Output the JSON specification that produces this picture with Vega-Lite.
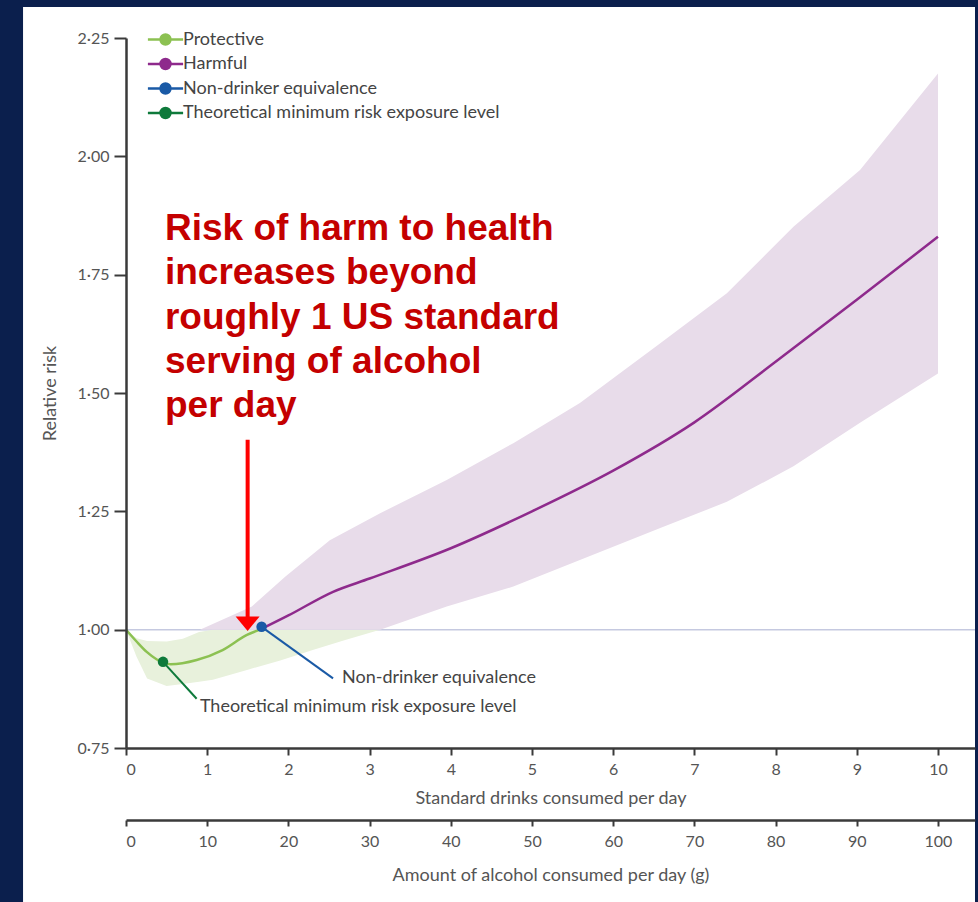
{
  "$schema": "https://vega.github.io/schema/vega-lite/v6.json",
  "width": 849,
  "height": 710,
  "autosize": {"type": "none"},
  "padding": {"left": 126, "top": 38, "right": 3, "bottom": 154},
  "background": "#ffffff",
  "config": {
    "view": {"stroke": null},
    "font": "Lato",
    "axis": {
      "zindex": 1,
      "grid": false,
      "domainColor": "#3a3a3a",
      "domainWidth": 2.5,
      "tickColor": "#3a3a3a",
      "tickWidth": 2,
      "labelColor": "#555555",
      "titleColor": "#555555",
      "labelFont": "Lato",
      "titleFont": "Lato",
      "labelFontSize": 16,
      "titleFontSize": 18,
      "titleFontWeight": "normal"
    },
    "legend": {"labelFont": "Lato"}
  },
  "resolve": {"scale": {"x": "independent"}, "axis": {"x": "independent"}},
  "layer": [
    {
      "layer": [
        {
          "data": {"values": [
            {"g": -15.52, "g2": -12.68, "y": 0.4246, "y2": 2.3303},
            {"g": -15.52, "g2": 104.93, "y": 2.3156, "y2": 2.3303},
            {"g": 104.56, "g2": 104.93, "y": 0.4246, "y2": 2.3303}
          ]},
          "mark": {"type": "rect", "color": "#0b1f4d"},
          "encoding": {
            "x": {
              "field": "g", "type": "quantitative",
              "scale": {"domain": [0, 104.56], "nice": false, "zero": false},
              "axis": {
                "orient": "bottom", "offset": 72, "zindex": 1,
                "values": [0, 10, 20, 30, 40, 50, 60, 70, 80, 90, 100],
                "format": "d",
                "title": "Amount of alcohol consumed per day (g)",
                "tickSize": 6, "labelPadding": 7, "titlePadding": 17
              }
            },
            "x2": {"field": "g2"},
            "y": {
              "field": "y", "type": "quantitative",
              "scale": {"domain": [0.75, 2.25], "nice": false, "zero": false},
              "axis": {
                "zindex": 1,
                "values": [0.75, 1, 1.25, 1.5, 1.75, 2, 2.25],
                "labelExpr": "replace(format(datum.value, '.2f'), '.', '·')",
                "title": "Relative risk",
                "tickSize": 12, "labelPadding": 5, "titlePadding": 18
              }
            },
            "y2": {"field": "y2"}
          }
        },
        {
          "data": {"values": [{"g": 0, "g2": 104.56, "rr": 1}]},
          "mark": {"type": "rule", "color": "#c5c9e0", "strokeWidth": 1.5},
          "encoding": {
            "x": {"field": "g", "type": "quantitative"},
            "x2": {"field": "g2"},
            "y": {"field": "rr", "type": "quantitative"}
          }
        }
      ]
    },
    {
      "layer": [
        {
          "data": {"values": [
            {"d": 0, "lo": 1.0, "hi": 1.0},
            {"d": 0.13, "lo": 0.943, "hi": 0.982},
            {"d": 0.26, "lo": 0.897, "hi": 0.976},
            {"d": 0.5, "lo": 0.881, "hi": 0.975},
            {"d": 0.7, "lo": 0.885, "hi": 0.981},
            {"d": 0.9, "lo": 0.89, "hi": 0.995},
            {"d": 1.07, "lo": 0.894, "hi": 1.0},
            {"d": 1.49, "lo": 0.915, "hi": 1.0},
            {"d": 1.9, "lo": 0.935, "hi": 1.0},
            {"d": 2.3, "lo": 0.957, "hi": 1.0},
            {"d": 2.7, "lo": 0.978, "hi": 1.0},
            {"d": 3.13, "lo": 1.0, "hi": 1.0}
          ]},
          "mark": {"type": "area", "color": "#e8f1dc"},
          "encoding": {
            "x": {
              "field": "d", "type": "quantitative",
              "scale": {"domain": [0, 10.456], "nice": false, "zero": false},
              "axis": {
                "orient": "bottom", "zindex": 1,
                "values": [0, 1, 2, 3, 4, 5, 6, 7, 8, 9, 10],
                "format": "d",
                "title": "Standard drinks consumed per day",
                "tickSize": 7, "labelPadding": 6, "titlePadding": 12
              }
            },
            "y": {"field": "lo", "type": "quantitative"},
            "y2": {"field": "hi"}
          }
        },
        {
          "data": {"values": [
            {"d": 0.91, "lo": 1.0, "hi": 1.0},
            {"d": 1.55, "lo": 1.0, "hi": 1.049},
            {"d": 1.96, "lo": 1.0, "hi": 1.112},
            {"d": 2.51, "lo": 1.0, "hi": 1.189},
            {"d": 3.13, "lo": 1.0, "hi": 1.246},
            {"d": 3.95, "lo": 1.049, "hi": 1.316},
            {"d": 4.77, "lo": 1.091, "hi": 1.394},
            {"d": 5.59, "lo": 1.147, "hi": 1.479},
            {"d": 6.58, "lo": 1.215, "hi": 1.605},
            {"d": 7.4, "lo": 1.27, "hi": 1.711},
            {"d": 8.22, "lo": 1.345, "hi": 1.851},
            {"d": 9.04, "lo": 1.437, "hi": 1.971},
            {"d": 10.0, "lo": 1.541, "hi": 2.175}
          ]},
          "mark": {"type": "area", "color": "#e8dcea"},
          "encoding": {
            "x": {"field": "d", "type": "quantitative"},
            "y": {"field": "lo", "type": "quantitative"},
            "y2": {"field": "hi"}
          }
        },
        {
          "data": {"values": [
            {"series": "Protective", "d": 0, "rr": 1.0},
            {"series": "Protective", "d": 0.13, "rr": 0.975},
            {"series": "Protective", "d": 0.255, "rr": 0.953},
            {"series": "Protective", "d": 0.38, "rr": 0.937},
            {"series": "Protective", "d": 0.55, "rr": 0.927},
            {"series": "Protective", "d": 0.87, "rr": 0.936},
            {"series": "Protective", "d": 1.19, "rr": 0.957},
            {"series": "Protective", "d": 1.49, "rr": 0.989},
            {"series": "Protective", "d": 1.65, "rr": 1.0},
            {"series": "Harmful", "d": 1.65, "rr": 1.0},
            {"series": "Harmful", "d": 2.0, "rr": 1.03},
            {"series": "Harmful", "d": 2.55, "rr": 1.08},
            {"series": "Harmful", "d": 3.0, "rr": 1.108},
            {"series": "Harmful", "d": 4.0, "rr": 1.172},
            {"series": "Harmful", "d": 5.0, "rr": 1.25},
            {"series": "Harmful", "d": 6.0, "rr": 1.336},
            {"series": "Harmful", "d": 7.0, "rr": 1.438},
            {"series": "Harmful", "d": 8.0, "rr": 1.566},
            {"series": "Harmful", "d": 9.0, "rr": 1.697},
            {"series": "Harmful", "d": 10.0, "rr": 1.83}
          ]},
          "mark": {"type": "line", "strokeWidth": 2.5, "interpolate": "monotone"},
          "encoding": {
            "x": {"field": "d", "type": "quantitative"},
            "y": {"field": "rr", "type": "quantitative"},
            "color": {
              "field": "series", "type": "nominal",
              "scale": {
                "domain": ["Protective", "Harmful", "Non-drinker equivalence", "Theoretical minimum risk exposure level"],
                "range": ["#8cc152", "#8e2a8c", "#1a5aa6", "#0e7a3b"]
              },
              "legend": {
                "orient": "none", "legendX": 27, "legendY": -11,
                "title": null,
                "symbolType": "M-1.6,0H1.6M0.45,0A0.45,0.45 0 1,1 -0.45,0A0.45,0.45 0 1,1 0.45,0Z",
                "symbolSize": 484,
                "symbolStrokeWidth": 2.5,
                "labelOffset": 5,
                "labelLimit": 500,
                "rowPadding": 1.5,
                "labelFontSize": 18,
                "labelColor": "#444444"
              }
            }
          }
        },
        {
          "data": {"values": [
            {"series": "Non-drinker equivalence", "d": 1.67, "rr": 1.006, "d2": 2.55, "rr2": 0.897, "lx": 2.66, "ly": 0.897},
            {"series": "Theoretical minimum risk exposure level", "d": 0.456, "rr": 0.932, "d2": 0.87, "rr2": 0.854, "lx": 0.91, "ly": 0.837}
          ]},
          "layer": [
            {
              "mark": {"type": "rule", "strokeWidth": 2},
              "encoding": {
                "x": {"field": "d", "type": "quantitative"},
                "y": {"field": "rr", "type": "quantitative"},
                "x2": {"field": "d2"},
                "y2": {"field": "rr2"},
                "color": {"field": "series", "type": "nominal"}
              }
            },
            {
              "mark": {"type": "point", "filled": true, "opacity": 1, "size": 110},
              "encoding": {
                "x": {"field": "d", "type": "quantitative"},
                "y": {"field": "rr", "type": "quantitative"},
                "color": {"field": "series", "type": "nominal"}
              }
            },
            {
              "mark": {"type": "text", "align": "left", "baseline": "middle", "fontSize": 18, "color": "#444444", "font": "Lato"},
              "encoding": {
                "x": {"field": "lx", "type": "quantitative"},
                "y": {"field": "ly", "type": "quantitative"},
                "text": {"field": "series"}
              }
            }
          ]
        },
        {
          "data": {"values": [
            {"d": 0.48, "rr": 1.823, "t": "Risk of harm to health\nincreases beyond\nroughly 1 US standard\nserving of alcohol\nper day"}
          ]},
          "mark": {"type": "text", "align": "left", "baseline": "alphabetic", "lineBreak": "\n", "lineHeight": 44.2, "font": "Liberation Sans", "fontWeight": "bold", "fontSize": 37, "color": "#c40000"},
          "encoding": {
            "x": {"field": "d", "type": "quantitative"},
            "y": {"field": "rr", "type": "quantitative"},
            "text": {"field": "t"}
          }
        },
        {
          "data": {"values": [{"d": 1.498, "top": 1.401, "bot": 1.027, "tip": 1.0126}]},
          "layer": [
            {
              "mark": {"type": "rule", "color": "#ff0000", "strokeWidth": 4},
              "encoding": {
                "x": {"field": "d", "type": "quantitative"},
                "y": {"field": "top", "type": "quantitative"},
                "y2": {"field": "bot"}
              }
            },
            {
              "mark": {"type": "point", "shape": "M-1,-0.6L1,-0.6L0,0.6Z", "size": 576, "filled": true, "opacity": 1, "color": "#ff0000"},
              "encoding": {
                "x": {"field": "d", "type": "quantitative"},
                "y": {"field": "tip", "type": "quantitative"}
              }
            }
          ]
        }
      ]
    }
  ]
}
